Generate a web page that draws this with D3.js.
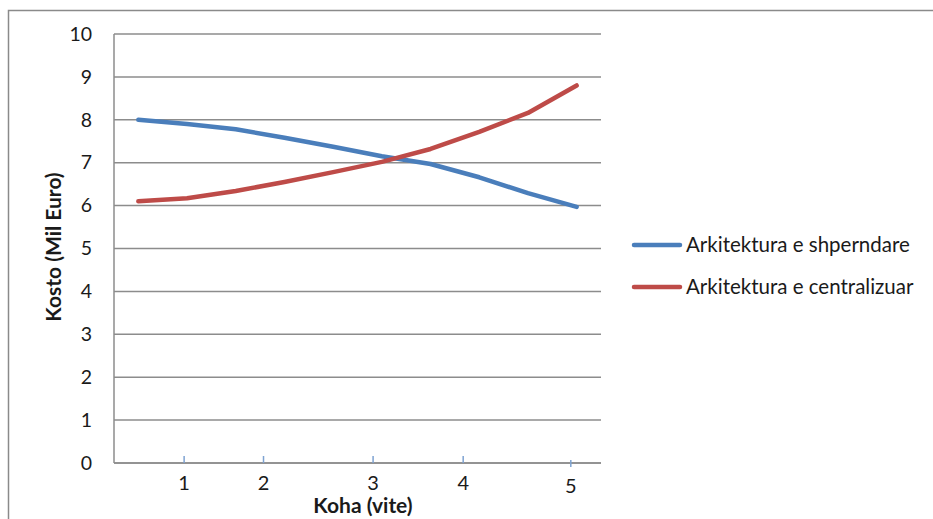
<!DOCTYPE html>
<html>
<head>
<meta charset="utf-8">
<script src="https://cdn.jsdelivr.net/npm/d3@7"></script>
<style>
  html, body { margin: 0; padding: 0; background: #fff; }
  svg { display: block; }
  text { font-family: Lato, "Open Sans", sans-serif; fill: #1a1a1a; }
</style>
</head>
<body>
<svg id="chart" width="933" height="519"></svg>
<script>
// Cost over time for two architectures (million euro)
const periods = [0, 1, 2, 3, 4, 5, 6, 7, 8, 9];
const shperndare = [8.0, 7.9, 7.78, 7.58, 7.37, 7.15, 6.97, 6.66, 6.29, 5.97];
const centralizuar = [6.1, 6.17, 6.34, 6.55, 6.78, 7.02, 7.32, 7.72, 8.16, 8.8];
const seriesNames = ["Arkitektura e shperndare", "Arkitektura e centralizuar"];
const seriesColors = ["#4a7ebb", "#be4b48"];
const yearLabels = ["1", "2", "3", "4", "5"];
const yearLabelAt = [0.94, 2.57, 4.82, 6.67, 8.88];
const yTicks = [0, 1, 2, 3, 4, 5, 6, 7, 8, 9, 10];

const svg = d3.select("#chart");
const plot = { left: 114, right: 601, top: 34, bottom: 463 };

// outer chart frame
svg.append("rect")
  .attr("x", 8.5).attr("y", 10.5).attr("width", 940).attr("height", 520)
  .attr("fill", "none").attr("stroke", "#8a8a8a").attr("stroke-width", 1.5);

const x = d3.scaleLinear().domain([-0.5, 9.5]).range([plot.left, plot.right]);
const y = d3.scaleLinear().domain([0, 10]).range([plot.bottom, plot.top]);

// y axis labels
const yAxis = d3.axisLeft(y).tickValues(yTicks).tickSize(0).tickPadding(22)
  .tickFormat(d3.format("d"));
const gy = svg.append("g").attr("transform", `translate(${plot.left},0)`).call(yAxis);
gy.select(".domain").remove();
gy.selectAll("text").attr("font-size", 19.5).attr("fill", "#1a1a1a")
  .style("font-family", "Lato, sans-serif");

// horizontal gridlines
svg.append("g").selectAll("line").data(yTicks).join("line")
  .attr("x1", plot.left).attr("x2", plot.right)
  .attr("y1", d => y(d)).attr("y2", d => y(d))
  .attr("stroke", "#8c8c8c").attr("stroke-width", 1.5);

// axis lines
svg.append("line")
  .attr("x1", plot.left).attr("x2", plot.left)
  .attr("y1", plot.top).attr("y2", plot.bottom)
  .attr("stroke", "#8c8c8c").attr("stroke-width", 1.5);
svg.append("line")
  .attr("x1", plot.left).attr("x2", plot.right)
  .attr("y1", plot.bottom).attr("y2", plot.bottom)
  .attr("stroke", "#8c8c8c").attr("stroke-width", 1.5);

// year markers along the time axis
const yearG = svg.append("g").selectAll("g").data(yearLabels).join("g")
  .attr("transform", (d, i) => `translate(${x(yearLabelAt[i])},${plot.bottom})`);
yearG.append("line")
  .attr("y1", (d, i) => i === 4 ? -3 : -7).attr("y2", (d, i) => i === 4 ? 4 : 0)
  .attr("stroke", "#7ea3d2").attr("stroke-width", 1.5);
yearG.append("text")
  .attr("y", (d, i) => i === 4 ? 30 : 27)
  .attr("text-anchor", "middle").attr("font-size", 20)
  .text(d => d);

// series lines
const line = d3.line().x((d, i) => x(periods[i])).y(d => y(d));
[shperndare, centralizuar].forEach((vals, k) => {
  svg.append("path").datum(vals)
    .attr("d", line)
    .attr("fill", "none")
    .attr("stroke", seriesColors[k])
    .attr("stroke-width", 4.5)
    .attr("stroke-linecap", "round")
    .attr("stroke-linejoin", "round");
});

// axis titles
svg.append("text")
  .attr("x", 363).attr("y", 513)
  .attr("text-anchor", "middle").attr("font-size", 21).attr("font-weight", "bold")
  .text("Koha (vite)");
svg.append("text")
  .attr("transform", "translate(61,247) rotate(-90)")
  .attr("text-anchor", "middle").attr("font-size", 21).attr("font-weight", "bold")
  .text("Kosto (Mil Euro)");

// legend
const leg = svg.append("g").selectAll("g").data(seriesNames).join("g")
  .attr("transform", (d, i) => `translate(634,${245 + i * 42})`);
leg.append("line")
  .attr("x1", 0).attr("x2", 46)
  .attr("stroke", (d, i) => seriesColors[i]).attr("stroke-width", 4.5)
  .attr("stroke-linecap", "round");
leg.append("text")
  .attr("x", 52).attr("y", 7).attr("font-size", 20.5)
  .text(d => d);
</script>
</body>
</html>
